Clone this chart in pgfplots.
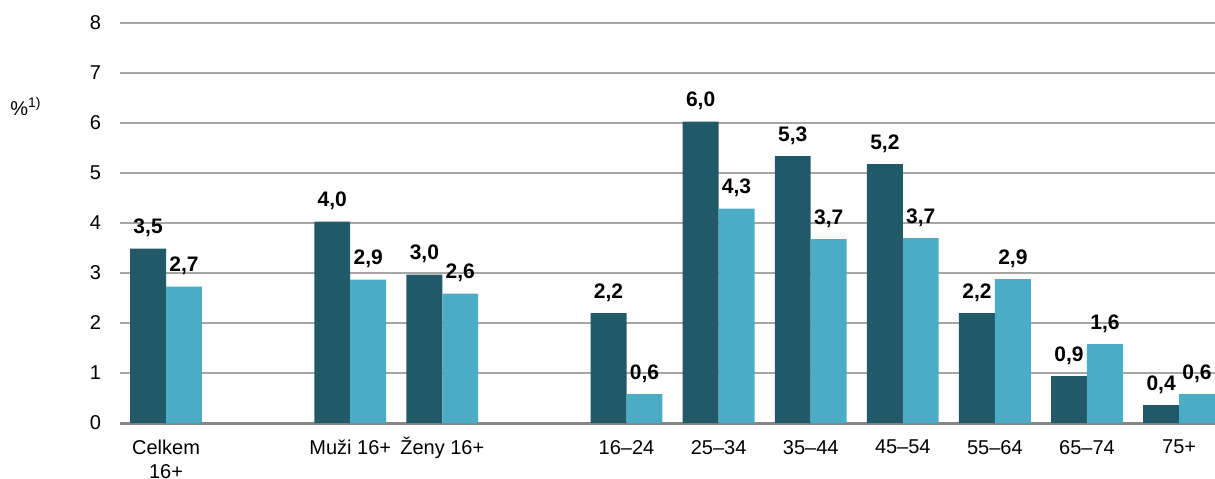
\documentclass[border=0pt]{standalone}
\usepackage{fontspec}
\setmainfont{Liberation Sans}
\usepackage{pgfplots}
\pgfplotsset{compat=1.18}
\definecolor{darkteal}{RGB}{34,89,104}
\definecolor{lightteal}{RGB}{75,172,198}
\definecolor{gridgray}{RGB}{166,166,166}
\definecolor{axisgray}{RGB}{134,134,134}
\begin{document}
\begin{tikzpicture}
\begin{axis}[
  width=547.5pt, height=200pt, scale only axis,
  ybar,
  xmin=-0.5, xmax=11.39, ymin=0, ymax=8,
  ytick={0,1,...,8},
  xtick={0,2,3,5,6,7,8,9,10,11},
  xticklabels={{Celkem\\16+},{Muži 16+},{\smash{Ž}eny 16+},16–24,25–34,35–44,45–54,55–64,65–74,75+},
  xticklabel style={align=center, yshift=-5pt},
  yticklabel style={xshift=-6pt},
  major tick length=0pt,
  axis lines*=left,
  x axis line style={axisgray, line width=1.5pt},
  y axis line style={draw=none},
  ymajorgrids, grid style={gridgray, line width=1pt},
  font=\fontsize{10pt}{12pt}\selectfont,
  /pgf/number format/assume math mode=true,
  bar width=0.39,
  nodes near coords,
  nodes near coords style={font=\fontsize{10.5pt}{12pt}\selectfont\bfseries, anchor=base, yshift=7.5pt,
    /pgf/number format/.cd, fixed, fixed zerofill, precision=1, use comma, assume math mode=true},
  clip=false,
]
\addplot[fill=darkteal, draw=none, bar shift=-0.195] coordinates {
 (0,3.49) (2,4.03) (3,2.97) (5,2.2) (6,6.03) (7,5.34) (8,5.18) (9,2.2) (10,0.94) (11,0.36)};
\addplot[fill=lightteal, draw=none, bar shift=0.195] coordinates {
 (0,2.73) (2,2.87) (3,2.59) (5,0.58) (6,4.29) (7,3.68) (8,3.7) (9,2.88) (10,1.58) (11,0.58)};
\node[anchor=base west, inner sep=0pt, xshift=-55pt] at (axis cs:-0.5,6.16) {\%\textsuperscript{1)}};
\end{axis}
\pgfresetboundingbox
\path ([shift={(-60pt,-27.5pt)}]current axis.south west) rectangle ([shift={(0pt,11.5pt)}]current axis.north east);
\end{tikzpicture}
\end{document}
